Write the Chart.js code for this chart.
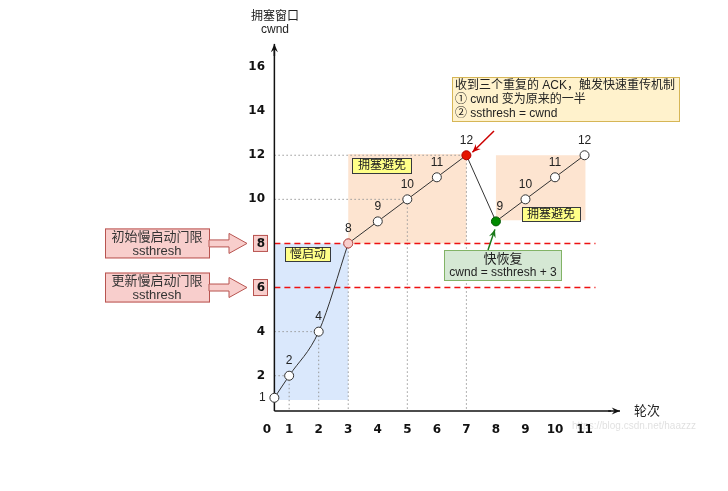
<!DOCTYPE html>
<html>
<head>
<meta charset="utf-8">
<script src="https://cdn.jsdelivr.net/npm/chart.js@4.4.1/dist/chart.umd.min.js"></script>
<style>
  html, body { margin: 0; padding: 0; background: #fff; }
</style>
</head>
<body>
<canvas id="chart" width="728" height="491"></canvas>
<script>
// round 0 sits on the y axis in the drawing, so it is read as 0.5
const rounds = [0.5, 1, 2, 3, 4, 5, 6, 7, 8, 9, 10, 11];
const cwnd = [1, 2, 4, 8, 9, 10, 11, 12, 9, 10, 11, 12];
const slowStartEnd = 3;   // index of the last slow-start point
const xTickValues = [0.25, 1, 2, 3, 4, 5, 6, 7, 8, 9, 10, 11];
const xTickLabels = ['0', '1', '2', '3', '4', '5', '6', '7', '8', '9', '10', '11'];
const yTickValues = [2, 4, 6, 8, 10, 12, 14, 16];
const ssthreshInit = 8;
const ssthreshNew = 6;

const CJK = '"Liberation Sans", "Noto Sans CJK SC", sans-serif';
const SANS = '"Liberation Sans", "DejaVu Sans", sans-serif';

function pts(from, to) {
  const out = [];
  for (let i = from; i <= to; i++) out.push({ x: rounds[i], y: cwnd[i] });
  return out;
}

function box(ctx, x0, y0, x1, y1, fill, stroke) {
  ctx.save();
  ctx.fillStyle = fill;
  ctx.fillRect(x0, y0, x1 - x0, y1 - y0);
  ctx.strokeStyle = stroke;
  ctx.lineWidth = 1;
  ctx.strokeRect(x0 + 0.5, y0 + 0.5, x1 - x0 - 1, y1 - y0 - 1);
  ctx.restore();
}

function text(ctx, s, x, y, font, color, align) {
  ctx.save();
  ctx.font = font;
  ctx.fillStyle = color || '#222';
  ctx.textAlign = align || 'center';
  ctx.textBaseline = 'middle';
  ctx.fillText(s, x, y);
  ctx.restore();
}

function line(ctx, x0, y0, x1, y1, color, width, dash) {
  ctx.save();
  ctx.strokeStyle = color;
  ctx.lineWidth = width;
  ctx.setLineDash(dash || []);
  ctx.beginPath();
  ctx.moveTo(x0, y0);
  ctx.lineTo(x1, y1);
  ctx.stroke();
  ctx.restore();
}

function arrow(ctx, x0, y0, x1, y1, color, head) {
  line(ctx, x0, y0, x1, y1, color, 1.5);
  const a = Math.atan2(y1 - y0, x1 - x0);
  const h = head || 8;
  ctx.save();
  ctx.fillStyle = color;
  ctx.beginPath();
  ctx.moveTo(x1, y1);
  ctx.lineTo(x1 - h * Math.cos(a - 0.4), y1 - h * Math.sin(a - 0.4));
  ctx.lineTo(x1 - h * 0.6 * Math.cos(a), y1 - h * 0.6 * Math.sin(a));
  ctx.lineTo(x1 - h * Math.cos(a + 0.4), y1 - h * Math.sin(a + 0.4));
  ctx.closePath();
  ctx.fill();
  ctx.restore();
}

function blockArrow(ctx, x0, x1, xt, yc) {
  ctx.save();
  ctx.fillStyle = '#f8cecc';
  ctx.strokeStyle = '#b85450';
  ctx.lineWidth = 1;
  ctx.beginPath();
  ctx.moveTo(x0, yc - 3.5);
  ctx.lineTo(x1, yc - 3.5);
  ctx.lineTo(x1, yc - 10);
  ctx.lineTo(xt, yc);
  ctx.lineTo(x1, yc + 10);
  ctx.lineTo(x1, yc + 3.5);
  ctx.lineTo(x0, yc + 3.5);
  ctx.closePath();
  ctx.fill();
  ctx.stroke();
  ctx.restore();
}

const decorations = {
  id: 'decorations',
  beforeDraw(chart) {
    const { ctx, scales: { x, y } } = chart;
    const X = v => x.getPixelForValue(v), Y = v => y.getPixelForValue(v);
    ctx.save();
    // phase backgrounds
    ctx.fillStyle = '#dae8fc';
    ctx.fillRect(X(0.5), Y(ssthreshInit), X(3) - X(0.5), Y(0.9) - Y(ssthreshInit));
    ctx.fillStyle = '#fde4d0';
    ctx.fillRect(X(3), Y(12.05), X(7) - X(3), Y(8) - Y(12.05));
    ctx.fillRect(X(8), Y(12), X(11.03) - X(8), Y(9.05) - Y(12));
    ctx.restore();
    // boxed threshold ticks
    [ssthreshInit, ssthreshNew].forEach(v => {
      box(ctx, 253, Y(v) - 8.5, 268, Y(v) + 8.5, '#f8cecc', '#b85450');
    });
  },
  beforeDatasetsDraw(chart) {
    const { ctx, scales: { x, y } } = chart;
    const X = v => x.getPixelForValue(v), Y = v => y.getPixelForValue(v);
    const x0 = X(0.5), y0 = Y(y.min);
    const dot = [1.5, 2.5];
    // dotted guide lines
    [[2, 1], [4, 2], [10, 5], [12, 7]].forEach(([v, r]) => line(ctx, x0, Y(v), X(r), Y(v), '#999', 1, dot));
    [[1, 2], [2, 4], [3, 8], [5, 10], [7, 12]].forEach(([r, v]) => line(ctx, X(r), Y(v), X(r), y0, '#999', 1, dot));
    // ssthresh lines
    [ssthreshInit, ssthreshNew].forEach(v => line(ctx, x0, Y(v), X(11.37), Y(v), '#ee1111', 1.5, [6, 4]));
    // axes with arrow heads
    line(ctx, x0, y0, x0, Y(16.8), '#111', 1.5);
    arrow(ctx, x0, Y(16.5), x0, Y(17.05), '#111', 9);
    line(ctx, x0, y0, X(11.9), y0, '#111', 1.5);
    arrow(ctx, X(11.8), y0, X(x.max), y0, '#111', 9);
    // phase labels
    box(ctx, 285, 247, 331, 262, '#ffff88', '#36393d');
    text(ctx, '慢启动', 308, 255, '12px ' + CJK, '#222');
    box(ctx, 352, 158, 412, 174, '#ffff88', '#36393d');
    text(ctx, '拥塞避免', 382, 166, '12px ' + CJK, '#222');
    box(ctx, 522, 207, 581, 222, '#ffff88', '#36393d');
    text(ctx, '拥塞避免', 551, 215, '12px ' + CJK, '#222');
  },
  afterDatasetsDraw(chart) {
    const { ctx, scales: { x, y } } = chart;
    const X = v => x.getPixelForValue(v), Y = v => y.getPixelForValue(v);
    // value labels next to the points
    rounds.forEach((r, i) => {
      let dx = 0, dy = -15;
      if (i === 0) { dx = -12; dy = 0; }
      if (i === 8) { dx = 4; }
      text(ctx, String(cwnd[i]), X(r) + dx, Y(cwnd[i]) + dy, '12px ' + SANS, '#222');
    });
    // axis titles
    text(ctx, '拥塞窗口', 275, 17, '12px ' + CJK, '#222');
    text(ctx, 'cwnd', 275, 30, '12px ' + SANS, '#222');
    text(ctx, '轮次', 634, 411, '13px ' + CJK, '#222', 'left');
    // left threshold notes
    [[ssthreshInit, '初始慢启动门限'], [ssthreshNew, '更新慢启动门限']].forEach(([v, s]) => {
      const yc = Y(v);
      box(ctx, 105, yc - 15, 210, yc + 15, '#f8cecc', '#b85450');
      text(ctx, s, 157, yc - 6, '13px ' + CJK, '#333');
      text(ctx, 'ssthresh', 157, yc + 8, '13px ' + SANS, '#333');
      blockArrow(ctx, 209, 229, 247, yc);
    });
    // fast retransmit note
    box(ctx, 452, 77, 680, 122, '#fff2cc', '#d6b656');
    text(ctx, '收到三个重复的 ACK，触发快速重传机制', 455, 86, '12px ' + CJK, '#222', 'left');
    text(ctx, '① cwnd 变为原来的一半', 455, 100, '12px ' + CJK, '#222', 'left');
    text(ctx, '② ssthresh = cwnd', 455, 114, '12px ' + CJK, '#222', 'left');
    arrow(ctx, 494, 131, X(7) + 6, Y(12) - 3, '#cc0000', 9);
    // fast recovery note
    box(ctx, 444, 250, 562, 281, '#d5e8d4', '#82b366');
    text(ctx, '快恢复', 503, 259, '13px ' + CJK, '#222');
    text(ctx, 'cwnd = ssthresh + 3', 503, 273, '12px ' + SANS, '#222');
    arrow(ctx, 488, 250, X(8) - 1, Y(9) + 8, '#1a7a1a', 9);
    // watermark
    text(ctx, 'https://blog.csdn.net/haazzz', 572, 426, '10px ' + SANS, 'rgba(0,0,0,0.13)', 'left');
  }
};

const pointBase = {
  pointRadius: 4.5,
  pointBorderWidth: 1,
  pointBorderColor: '#333',
  pointBackgroundColor: '#fff',
  borderColor: '#333',
  borderWidth: 1
};

new Chart(document.getElementById('chart'), {
  type: 'line',
  data: {
    datasets: [
      Object.assign({}, pointBase, {
        label: 'slow start',
        data: pts(0, slowStartEnd),
        cubicInterpolationMode: 'monotone',
        pointBackgroundColor: ['#fff', '#fff', '#fff', '#f8cecc'],
        pointBorderColor: ['#333', '#333', '#333', '#b85450']
      }),
      Object.assign({}, pointBase, {
        label: 'congestion avoidance',
        data: pts(slowStartEnd, rounds.length - 1),
        tension: 0,
        pointBackgroundColor: ['#f8cecc', '#fff', '#fff', '#fff', '#e51400', '#008a00', '#fff', '#fff', '#fff'],
        pointBorderColor: ['#b85450', '#333', '#333', '#333', '#b20000', '#005700', '#333', '#333', '#333']
      })
    ]
  },
  options: {
    responsive: false,
    animation: false,
    devicePixelRatio: 1,
    layout: { padding: { top: 45, right: 108, left: 0, bottom: 0 } },
    plugins: { legend: { display: false }, tooltip: { enabled: false } },
    scales: {
      x: {
        type: 'linear',
        min: 0.25,
        max: 12.2,
        grid: { display: false, drawTicks: false },
        border: { display: false },
        afterBuildTicks: axis => { axis.ticks = xTickValues.map(v => ({ value: v })); },
        afterFit: scale => { scale.height = 80; },
        ticks: {
          padding: 12,
          maxRotation: 0,
          autoSkip: false,
          color: '#111',
          font: { family: '"DejaVu Sans", sans-serif', size: 12, weight: 'bold' },
          callback: (v, i) => xTickLabels[i]
        }
      },
      y: {
        type: 'linear',
        min: 0.4,
        max: 17,
        grid: { display: false, drawTicks: false },
        border: { display: false },
        afterBuildTicks: axis => { axis.ticks = yTickValues.map(v => ({ value: v })); },
        afterFit: scale => { scale.width = 267; },
        ticks: {
          padding: 2,
          autoSkip: false,
          color: '#111',
          font: { family: '"DejaVu Sans", sans-serif', size: 12, weight: 'bold' },
          callback: v => String(v)
        }
      }
    }
  },
  plugins: [decorations]
});
</script>
</body>
</html>
